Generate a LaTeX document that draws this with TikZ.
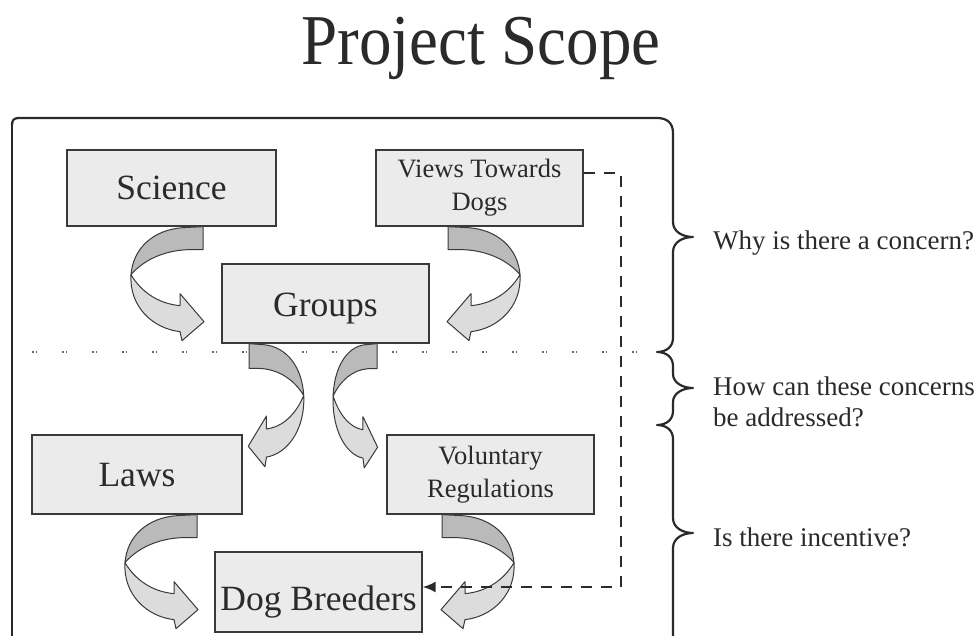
\documentclass[tikz,border=0pt]{standalone}
\usepackage{graphicx}
\usepackage{fontspec}
\setmainfont{Liberation Serif}
\usetikzlibrary{arrows.meta,backgrounds}
\definecolor{boxfill}{HTML}{EBEBEB}
\definecolor{boxdraw}{HTML}{3A3A3A}
\definecolor{arrowdark}{HTML}{BABABA}
\definecolor{arrowlight}{HTML}{DCDCDC}
\definecolor{inkc}{HTML}{2A2A2A}
\definecolor{dotc}{HTML}{6A6A6A}
\begin{document}
\begin{tikzpicture}[x=1pt,y=-1pt,
  box/.style={draw=boxdraw, line width=1.3pt, fill=boxfill, minimum width=207pt,
    minimum height=78pt, inner sep=0pt, align=center, text=inkc},
  bigtext/.style={font=\fontsize{35.5}{40}\selectfont, text height=24pt, text depth=0pt},
  smalltext/.style={font=\fontsize{26.5}{33}\selectfont},
  lbl/.style={font=\fontsize{27}{31}\selectfont, inner sep=0pt, text=inkc, align=left},
  arrowline/.style={draw=boxdraw, line width=1pt, line join=round},
  framestyle/.style={draw=inkc, line width=2.2pt, line join=round},
  dashconn/.style={draw=inkc, line width=2pt, dash pattern=on 11pt off 9pt,
    -{Latex[length=13pt,width=11pt]}},
  dotline/.style={draw=dotc, line width=1.6pt,
    dash pattern=on 1.6pt off 2pt on 1.6pt off 24.8pt},
  carrow/.pic={
    \draw[arrowline, fill=arrowdark] (0,0) -- (-20,1)
      .. controls (-50,3) and (-70,22) .. (-72,48)
      .. controls (-60,34) and (-40,24) .. (-15,23) -- (0,23) -- cycle;
    \draw[arrowline, fill=arrowlight] (-72,48)
      .. controls (-74,80) and (-50,102) .. (-23,105)
      -- (-21,114) -- (1,95) -- (-23,67) -- (-23,79)
      .. controls (-45,77) and (-62,65) .. (-72,48) -- cycle;
  }]
\useasboundingbox (0,0) rectangle (980,636);

% title
\node[anchor=base, font=\fontsize{65}{70}\selectfont, text=inkc, inner sep=0pt] (title)
  at (481,65) {\scalebox{1}[1.1]{Project Scope}};

% boxes
\node[box,bigtext,minimum width=209pt,minimum height=76pt] (sci) at (171.5,188) {Science};
\node[box,smalltext,minimum height=76pt] (views) at (479.5,188) {Views Towards\\Dogs};
\node[box,bigtext,text height=26pt,minimum height=79pt] (groups) at (325.5,303.5) {Groups};
\node[box,bigtext,minimum width=210pt,minimum height=79pt] (laws) at (137,474.5) {Laws};
\node[box,smalltext,minimum height=79pt] (vol) at (490.5,474.5) {Voluntary\\Regulations};
\node[box,bigtext,text height=36pt,minimum height=80pt] (dog) at (318.5,592) {Dog Breeders};

% dotted divider and curved arrows
\coordinate (dl) at (32,352);
\coordinate (dr) at (662,352);
\begin{scope}[on background layer]
  \draw[dotline] (dl) -- (dr);
  \pic at ([xshift=31.5pt]sci.south) {carrow};
  \pic[xscale=-1] at ([xshift=-31.5pt]views.south) {carrow};
  \pic[xscale=-0.76,yscale=1.08] at ([xshift=-76.5pt]groups.south) {carrow};
  \pic[xscale=0.61,yscale=1.09] at ([xshift=51.5pt]groups.south) {carrow};
  \pic at ([xshift=60pt]laws.south) {carrow};
  \pic[xscale=-1] at ([xshift=-48.5pt]vol.south) {carrow};
\end{scope}

% dashed connector
\coordinate (d1) at (621,173);
\coordinate (d2) at (621,587);
\draw[dashconn] ([yshift=15pt]views.east) -- (d1) -- (d2) -- ([yshift=5pt]dog.east);

% frame with braces
\draw[framestyle, line width=2.8pt] (12,645) -- (12,125);
\draw[framestyle] (12,125) .. controls (12,120) and (14,118) .. (19,118)
  -- (657,118) .. controls (667,118) and (673,123) .. (673,133)
  -- (673,222) .. controls (673,232) and (683,237) .. (693,237)
  .. controls (683,237) and (673,242) .. (673,252)
  -- (673,338) .. controls (673,347) and (666,352) .. (657,352)
  .. controls (666,352) and (673,357) .. (673,366)
  -- (673,374) .. controls (673,383) and (683,388) .. (693,388)
  .. controls (683,388) and (673,393) .. (673,402)
  -- (673,411) .. controls (673,420) and (666,425) .. (657,425)
  .. controls (666,425) and (673,430) .. (673,439)
  -- (673,518) .. controls (673,528) and (683,533) .. (693,533)
  .. controls (683,533) and (673,538) .. (673,548) -- (673,645);

% questions
\node[lbl, anchor=base west] (q1) at (713,250) {Why is there a concern?};
\node[lbl, anchor=north west] (q2) at (713,376.6) {How can these concerns\\be addressed?};
\node[lbl, anchor=base west] (q3) at (713,546) {Is there incentive?};
\end{tikzpicture}
\end{document}
